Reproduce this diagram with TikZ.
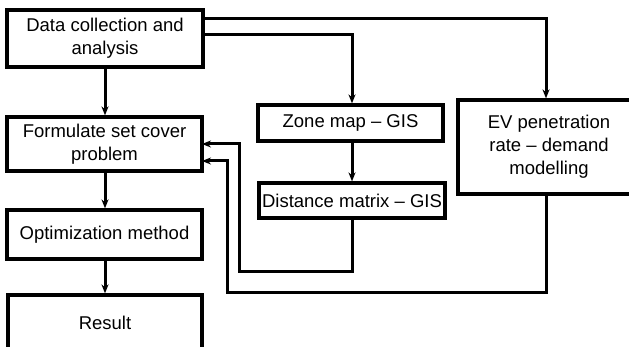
\documentclass[tikz,border=0pt]{standalone}
\usepackage{fontspec}
\setmainfont{Liberation Sans}
\usetikzlibrary{arrows.meta}
\begin{document}
\begin{tikzpicture}[x=1pt,y=-1pt,
  box/.style={draw, line width=3.2pt, align=center, inner sep=0pt,
    font=\fontsize{18.5}{23}\selectfont},
  link/.style={line width=3pt, -{Stealth[length=9pt,width=7pt]}}]
  \useasboundingbox (0,0) rectangle (629,347);
  \clip (0,0) rectangle (629,347);

  % main chain on the left
  \node[box, minimum width=196pt, minimum height=57pt] (data) at (105,38.5)
    {Data collection and\\analysis};
  \node[box, minimum width=195pt, minimum height=54pt] (form) at (104.5,144)
    {Formulate set cover\\problem};
  \node[box, minimum width=195pt, minimum height=49pt] (opt) at (104.5,234.5)
    {Optimization method};
  \node[box, minimum width=194pt, minimum height=56pt] (res) at (105,323)
    {Result};

  % GIS branch
  \node[box, minimum width=185pt, minimum height=36pt] (zone) at (350.5,123)
    {Zone map -- GIS};
  \node[box, minimum width=186pt, minimum height=35pt] (dist) at (352,200.5)
    {Distance matrix -- GIS};

  % demand branch
  \node[box, minimum width=182pt, minimum height=94pt] (ev) at (549,147)
    {EV penetration\\rate -- demand\\modelling};

  % routing points
  \coordinate (t1) at (203,19);
  \coordinate (t2) at (203,35);
  \coordinate (zr) at (352,0);
  \coordinate (er) at (546,0);
  \coordinate (d1) at (352,272);
  \coordinate (d2) at (239,272);
  \coordinate (e1) at (546,293);
  \coordinate (e2) at (227,293);
  \coordinate (f1) at (202,144);
  \coordinate (f2) at (202,161);

  \draw[link] (data.south -| 105,0) -- (form.north -| 105,0);
  \draw[link] (form.south -| 105,0) -- (opt.north -| 105,0);
  \draw[link] (opt.south -| 105,0) -- (res.north -| 105,0);

  \draw[link] (t1) -| (er |- ev.north);
  \draw[link] (t2) -| (zr |- zone.north);
  \draw[link] (zone.south -| zr) -- (dist.north -| zr);

  \draw[link] (dist.south -| zr) -- (d1) -- (d2) |- (f1);
  \draw[link] (ev.south -| er) -- (e1) -- (e2) |- (f2);
\end{tikzpicture}
\end{document}
